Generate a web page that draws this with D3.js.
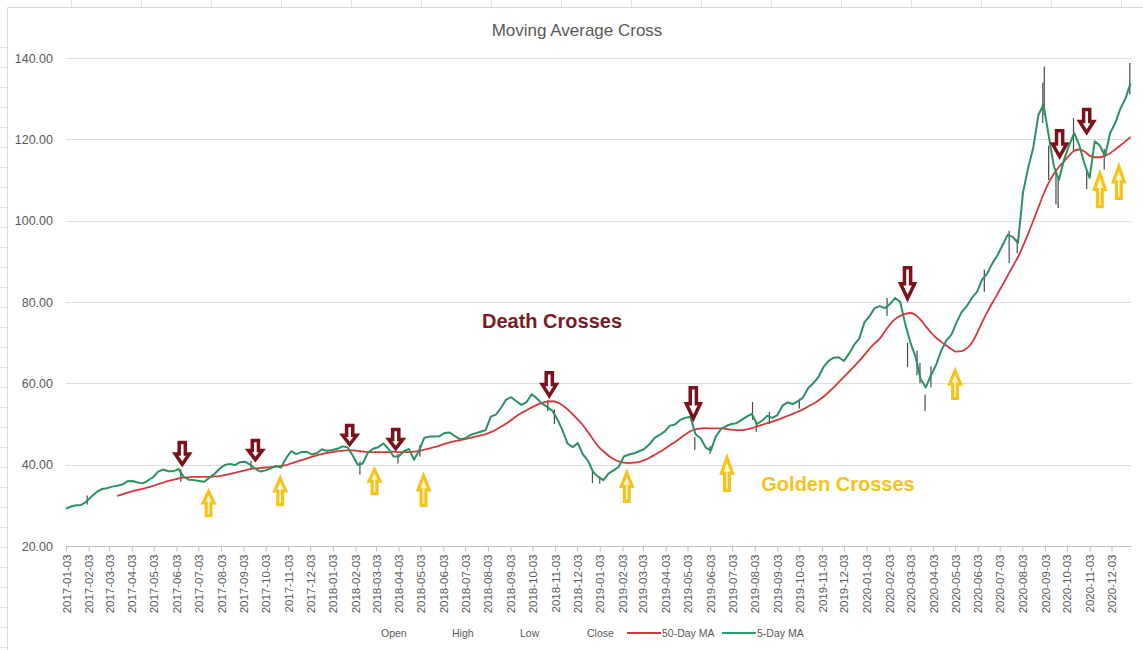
<!DOCTYPE html>
<html>
<head>
<meta charset="utf-8">
<script src="https://cdn.jsdelivr.net/npm/d3@7"></script>
<style>
  body { margin: 0; background: #fff; }
  text { font-family: "Liberation Sans", Arial, sans-serif; }
</style>
</head>
<body>
<div id="chart"></div>
<script>
// weekly samples of the two moving averages, first one on 2017-01-03
var firstWeek = "2017-01-03";

var ma5 = [
  // 2017
  29.2, 29.7, 30.0, 30.1, 30.9,
  32.2, 33.3, 34.0, 34.2,
  34.6, 34.8, 35.1, 35.9,
  36.0, 35.6, 35.4, 36.1,
  36.9, 38.3, 38.8, 38.4, 38.4,
  38.9, 37.0, 36.3, 36.2,
  36.0, 35.8, 36.8, 37.7,
  39.0, 39.9, 40.2, 39.9, 40.6,
  40.7, 40.0, 39.0, 38.3,
  38.6, 39.1, 39.7, 39.3, 41.6,
  43.3, 42.6, 43.1, 43.2,
  42.5, 42.8, 43.8, 43.4,
  // 2018
  43.6, 43.9, 44.5, 44.3, 42.3,
  40.0, 40.3, 43.0, 43.9,
  44.3, 45.2, 43.9, 42.0,
  42.0, 43.3, 43.9, 41.2,
  43.5, 46.6, 46.9, 46.9, 47.0,
  47.8, 47.9, 47.0, 46.2,
  46.5, 47.3, 47.7, 48.1, 48.5,
  51.8, 52.3, 54.0, 56.0,
  56.6, 55.6, 54.7, 55.4,
  57.3, 56.3, 55.0, 54.2, 53.3,
  51.2, 48.5, 45.2, 44.3,
  45.3, 42.5, 41.0, 38.2,
  // 2019
  37.0, 36.2, 37.8, 38.6, 39.5,
  42.0, 42.5, 42.8, 43.3,
  43.9, 45.0, 46.6, 47.3,
  48.2, 49.6, 49.9, 51.0, 51.5,
  51.8, 47.5, 46.5, 44.2,
  43.5, 47.0, 48.8, 49.5,
  50.0, 50.2, 51.0, 51.8, 52.5,
  50.0, 50.8, 52.0, 51.5,
  52.2, 54.5, 55.3, 54.9,
  55.6, 56.5, 58.8, 60.0, 61.5,
  64.0, 65.5, 66.3, 66.4,
  65.5, 67.3, 69.5, 71.0,
  // 2020
  75.0,
  76.5, 78.5, 79.0, 78.5,
  79.5, 81.0, 80.0, 74.5,
  70.0, 66.5, 61.0, 59.0, 62.0,
  64.5, 68.0, 70.5, 72.0,
  75.0, 77.5, 79.0, 81.0,
  82.5, 85.5, 87.0, 89.5, 91.5,
  94.0, 96.5, 96.0, 94.5,
  107.0, 113.0, 118.0, 126.0,
  128.5, 121.0, 113.5, 110.0, 115.0,
  118.5, 121.5, 118.5, 114.0,
  110.5, 119.5, 118.5, 115.8,
  121.5, 124.0, 127.5, 130.0, 133.8
];

var ma50 = [
  // 2017
  null, null, null, null, null,
  null, null, null, null,
  null, 32.3, 32.7, 33.1,
  33.5, 33.8, 34.1, 34.4,
  34.8, 35.2, 35.6, 36.0, 36.3,
  36.6, 36.8, 36.9, 37.0,
  37.0, 37.0, 37.0, 37.1,
  37.2, 37.4, 37.7, 38.0, 38.3,
  38.6, 38.9, 39.1, 39.2,
  39.3, 39.4, 39.5, 39.7, 39.9,
  40.3, 40.7, 41.1, 41.5,
  41.9, 42.3, 42.6, 42.9,
  // 2018
  43.1, 43.3, 43.4, 43.5, 43.5,
  43.4, 43.2, 43.1, 43.1,
  43.1, 43.1, 43.1, 43.2,
  43.1, 43.1, 43.1, 43.2,
  43.4, 43.7, 44.0, 44.3, 44.7,
  45.1, 45.5, 45.8, 46.0,
  46.3, 46.6, 46.9, 47.2, 47.5,
  48.0, 48.6, 49.3, 50.1,
  51.0, 51.9, 52.7, 53.4,
  54.1, 54.7, 55.2, 55.5, 55.6,
  55.3, 54.6, 53.6, 52.4,
  51.1, 49.7, 48.0, 46.2,
  // 2019
  44.5, 43.3, 42.2, 41.4, 40.8,
  40.5, 40.4, 40.5, 40.7,
  41.1, 41.7, 42.4, 43.1,
  43.9, 44.8, 45.6, 46.5, 47.4,
  48.2, 48.7, 48.9, 49.0,
  48.9, 48.9, 48.9, 48.8,
  48.6, 48.5, 48.5, 48.7, 49.0,
  49.4, 49.8, 50.2, 50.6,
  51.0, 51.5, 52.0, 52.5,
  53.0, 53.6, 54.3, 55.0, 55.8,
  56.7, 57.8, 59.0, 60.3,
  61.6, 62.9, 64.2, 65.5,
  // 2020
  67.0,
  68.5, 69.8, 71.0, 72.8,
  74.5, 75.8, 76.6, 77.1,
  77.3, 76.8, 75.6, 74.0, 72.5,
  71.2, 70.2, 69.3, 68.4,
  67.8, 67.9, 68.6, 70.0,
  72.3, 75.0, 77.5, 79.8, 82.0,
  84.2, 86.5, 88.8, 91.0,
  93.8, 96.8, 100.0, 103.3,
  106.5, 109.3, 111.5, 113.2, 114.6,
  116.0, 117.2, 117.5, 117.0,
  116.0, 115.6, 115.6, 116.0,
  116.6, 117.5, 118.5, 119.5, 120.6
];

// visible high-low spikes: date, low, high
var wicks = [
  ["2017-02-01", 30.2, 32.4], ["2017-06-09", 35.8, 38.9], ["2017-09-13", 39.0, 40.9],
  ["2018-02-09", 37.6, 40.8], ["2018-04-02", 40.3, 42.6], ["2018-05-02", 42.0, 44.8],
  ["2018-10-24", 53.2, 55.9], ["2018-11-02", 50.0, 53.6], ["2018-12-24", 35.5, 38.3],
  ["2019-01-03", 35.3, 37.1], ["2019-05-13", 43.6, 46.8], ["2019-06-03", 42.6, 44.6],
  ["2019-07-31", 51.0, 55.4], ["2019-08-05", 48.1, 50.6], ["2019-08-23", 50.0, 53.0],
  ["2019-10-03", 53.8, 56.2], ["2020-01-31", 76.6, 81.0], ["2020-02-28", 64.0, 70.0],
  ["2020-03-12", 62.0, 68.0], ["2020-03-16", 60.0, 65.0], ["2020-03-23", 53.2, 57.2],
  ["2020-03-31", 59.0, 64.2], ["2020-06-12", 82.5, 88.0], ["2020-07-16", 89.5, 97.5],
  ["2020-07-27", 92.0, 95.5], ["2020-08-31", 124.0, 134.0], ["2020-09-02", 126.0, 137.9],
  ["2020-09-08", 110.0, 118.5], ["2020-09-18", 104.0, 112.0], ["2020-09-21", 103.1, 110.2],
  ["2020-10-12", 117.0, 125.2], ["2020-10-30", 107.7, 112.0], ["2020-11-23", 112.5, 117.7],
  ["2020-12-28", 131.0, 138.8]
];

// annotation arrows: date, price at the tip, price at the tail
var deathDates  = ["2017-06-11", "2017-09-19", "2018-01-26", "2018-03-30", "2018-10-26", "2019-05-11", "2020-02-28", "2020-09-23", "2020-10-30"];
var deathTip    = [39.7, 40.9, 44.6, 43.6, 56.6, 51.0, 80.5, 115.4, 121.3];
var deathTail   = [45.8, 46.3, 50.0, 49.0, 63.0, 59.3, 88.8, 122.5, 127.7];
var goldenDates = ["2017-07-17", "2017-10-23", "2018-03-01", "2018-05-07", "2019-02-09", "2019-06-26", "2020-05-03", "2020-11-17", "2020-12-13"];
var goldenTip   = [33.8, 37.0, 39.2, 37.7, 38.4, 42.1, 63.5, 112.0, 113.7];
var goldenTail  = [27.1, 29.8, 32.5, 29.6, 30.6, 33.3, 55.9, 103.1, 105.1];

var yTicks = [20, 40, 60, 80, 100, 120, 140];
var legendNames = ["Open", "High", "Low", "Close", "50-Day MA", "5-Day MA"];

(function() {
  var parse = d3.timeParse("%Y-%m-%d");
  var width = 1143, height = 650;
  var plotLeft = 66, plotRight = 1132, plotTop = 58, plotBottom = 546;

  var svg = d3.select("#chart").append("svg")
    .attr("width", width)
    .attr("height", height);

  // faint sheet grid and chart frame
  var sheet = svg.append("g").attr("stroke", "#e3e3e3").attr("stroke-width", 1);
  d3.range(71, width, 70).forEach(function(x) {
    sheet.append("line").attr("x1", x + 0.5).attr("x2", x + 0.5).attr("y1", 0).attr("y2", 7);
  });
  d3.range(47, height, 20).forEach(function(y) {
    sheet.append("line").attr("x1", 0).attr("x2", 7).attr("y1", y + 0.5).attr("y2", y + 0.5);
  });
  svg.append("path")
    .attr("d", "M7.5," + height + "V7.5H" + width)
    .attr("fill", "none")
    .attr("stroke", "#d9d9d9");

  var start = parse(firstWeek);
  var weeks = ma5.map(function(d, i) { return d3.timeDay.offset(start, 7 * i); });

  var xScale = d3.scaleTime()
    .domain([parse("2017-01-03"), parse("2020-12-31")])
    .range([plotLeft, plotRight]);
  var yScale = d3.scaleLinear().domain([20, 140]).range([plotBottom, plotTop]);

  // title
  svg.append("text")
    .attr("x", 577).attr("y", 36)
    .attr("text-anchor", "middle")
    .attr("font-size", "17px")
    .attr("fill", "#595959")
    .text("Moving Average Cross");

  // gridlines
  svg.append("g").selectAll("line")
    .data(yTicks.slice(1))
    .enter().append("line")
      .attr("x1", plotLeft).attr("x2", plotRight)
      .attr("y1", function(d) { return Math.round(yScale(d)) + 0.5; })
      .attr("y2", function(d) { return Math.round(yScale(d)) + 0.5; })
      .attr("stroke", "#dedede");

  // y axis labels
  var yAxis = d3.axisLeft(yScale).tickValues(yTicks).tickFormat(d3.format(".2f")).tickSize(0).tickPadding(13);
  svg.append("g")
    .attr("class", "axis y-axis")
    .attr("transform", "translate(" + plotLeft + ",0)")
    .call(yAxis)
    .call(function(g) {
      g.select(".domain").remove();
      g.selectAll("text").attr("font-size", "12.5px").attr("fill", "#595959")
        .attr("font-family", "'Liberation Sans', Arial, sans-serif");
    });

  // x axis with monthly labels
  var monthTicks = d3.timeMonth.range(parse("2017-01-01"), parse("2021-01-01"))
    .map(function(m) { return d3.timeDay.offset(m, 2); });
  var xAxis = d3.axisBottom(xScale).tickValues(monthTicks)
    .tickFormat(d3.timeFormat("%Y-%m-%d")).tickSize(5).tickPadding(4);
  svg.append("g")
    .attr("class", "axis x-axis")
    .attr("transform", "translate(0," + (plotBottom + 0.5) + ")")
    .call(xAxis)
    .call(function(g) {
      g.select(".domain").attr("stroke", "#bfbfbf").attr("d", "M" + plotLeft + ",0H" + plotRight);
      g.selectAll(".tick line").attr("stroke", "#bfbfbf");
      g.selectAll("text")
        .attr("font-size", "11.5px").attr("fill", "#595959")
        .attr("font-family", "'Liberation Sans', Arial, sans-serif")
        .attr("transform", "rotate(-90)")
        .attr("text-anchor", "end")
        .attr("x", -8).attr("y", 0).attr("dy", "0.35em");
    });

  // high-low spikes
  svg.append("g").selectAll("line")
    .data(wicks)
    .enter().append("line")
      .attr("x1", function(d) { return xScale(parse(d[0])); })
      .attr("x2", function(d) { return xScale(parse(d[0])); })
      .attr("y1", function(d) { return yScale(d[1]); })
      .attr("y2", function(d) { return yScale(d[2]); })
      .attr("stroke", "#4a4a4a")
      .attr("stroke-width", 1.2);

  var line50 = d3.line()
    .defined(function(d) { return d !== null; })
    .x(function(d, i) { return xScale(weeks[i]); })
    .y(function(d) { return yScale(d); })
    .curve(d3.curveMonotoneX);
  var line5 = d3.line()
    .x(function(d, i) { return xScale(weeks[i]); })
    .y(function(d) { return yScale(d); });

  svg.append("path")
    .datum(ma50)
    .attr("d", line50)
    .attr("fill", "none")
    .attr("stroke", "#d6383a")
    .attr("stroke-width", 1.8);

  svg.append("path")
    .datum(ma5)
    .attr("d", line5)
    .attr("fill", "none")
    .attr("stroke", "#2b9160")
    .attr("stroke-width", 2)
    .attr("stroke-linejoin", "round");

  // block arrow path between a tip and a tail
  function arrowPath(cx, yTip, yTail, w) {
    var dir = yTip > yTail ? 1 : -1;
    var headLen = Math.abs(yTip - yTail) * 0.48;
    var hw = w / 2, sw = w * 0.22;
    var yNeck = yTip - dir * headLen;
    return "M" + (cx - sw) + "," + yTail + "H" + (cx + sw) + "V" + yNeck +
      "H" + (cx + hw) + "L" + cx + "," + yTip + "L" + (cx - hw) + "," + yNeck +
      "H" + (cx - sw) + "Z";
  }

  svg.append("g").selectAll("path")
    .data(deathDates)
    .enter().append("path")
      .attr("d", function(d, i) {
        return arrowPath(xScale(parse(d)), yScale(deathTip[i]) - 1.5, yScale(deathTail[i]) + 1.5, 14);
      })
      .attr("fill", "#fff")
      .attr("stroke", "#7b1219")
      .attr("stroke-width", 3.5)
      .attr("stroke-linejoin", "miter");

  svg.append("g").selectAll("path")
    .data(goldenDates)
    .enter().append("path")
      .attr("d", function(d, i) {
        return arrowPath(xScale(parse(d)), yScale(goldenTip[i]) + 1.5, yScale(goldenTail[i]) - 1.5, 11);
      })
      .attr("fill", "#fff6d5")
      .attr("stroke", "#f7c21a")
      .attr("stroke-width", 3.2)
      .attr("stroke-linejoin", "miter");

  svg.append("text")
    .attr("x", 552).attr("y", 328)
    .attr("text-anchor", "middle")
    .attr("font-size", "20px").attr("font-weight", "bold")
    .attr("fill", "#7d1a1f")
    .text("Death Crosses");

  svg.append("text")
    .attr("x", 838).attr("y", 491)
    .attr("text-anchor", "middle")
    .attr("font-size", "20px").attr("font-weight", "bold")
    .attr("fill", "#f6c21c")
    .text("Golden Crosses");

  // legend
  var legendX = [381, 452, 520, 587, 662, 757];
  var legendColor = [null, null, null, null, "#d6383a", "#2e9a66"];
  var legend = svg.append("g").attr("transform", "translate(0,633)");
  legendNames.forEach(function(name, i) {
    if (legendColor[i]) {
      legend.append("line")
        .attr("x1", legendX[i] - 35).attr("x2", legendX[i] - 1)
        .attr("y1", 0).attr("y2", 0)
        .attr("stroke", legendColor[i]).attr("stroke-width", 2);
    }
    legend.append("text")
      .attr("x", legendX[i]).attr("y", 4)
      .attr("font-size", "10.5px").attr("fill", "#595959")
      .text(name);
  });
})();
</script>
</body>
</html>
